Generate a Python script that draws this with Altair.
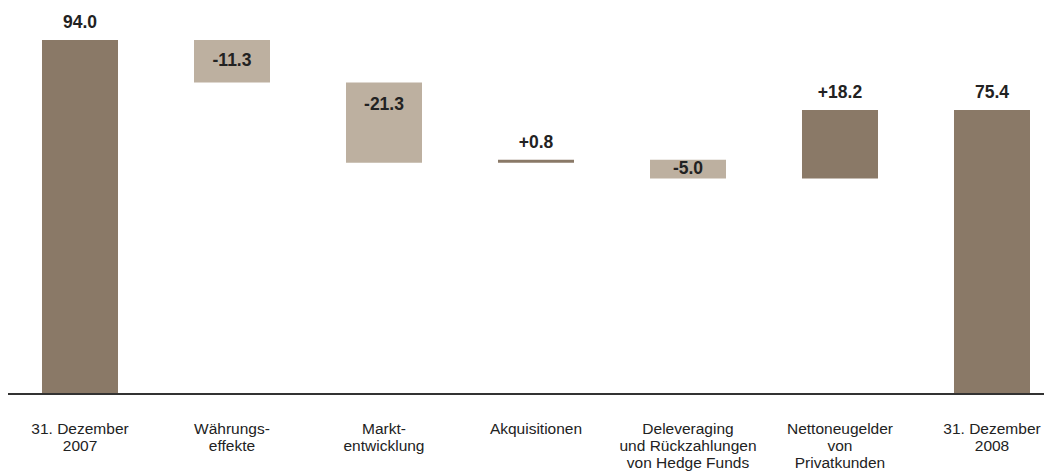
import altair as alt
import pandas as pd

# ---- data ----
categories = [
    "31. Dezember|2007",
    "Währungs-|effekte",
    "Markt-|entwicklung",
    "Akquisitionen",
    "Deleveraging|und Rückzahlungen|von Hedge Funds",
    "Nettoneugelder|von|Privatkunden",
    "31. Dezember|2008",
]
values = [94.0, -11.3, -21.3, 0.8, -5.0, 18.2, 75.4]
is_total = [True, False, False, False, False, False, True]

# ---- waterfall table derived from the arrays ----
rows = []
running = 0.0
for cat, v, t in zip(categories, values, is_total):
    if t:
        start, end = 0.0, v
        running = v
        label = f"{v:.1f}"
    else:
        start, end = running, running + v
        running = end
        label = f"{v:+.1f}"
    rows.append({
        "cat": cat, "start": start, "end": end, "label": label,
        "kind": "dark" if (t or v > 0) else "light",
        "up": 1 if (t or v > 0) else 0,
    })
df = pd.DataFrame(rows)

W, H = 1036, 386
YMAX = 102.5

x = alt.X("cat:N", sort=categories, title=None,
          scale=alt.Scale(paddingInner=0.5, paddingOuter=0.1579, align=0.7083),
          axis=alt.Axis(labelAngle=0, ticks=False, domain=False, labelPadding=27.5,
                        labelFontSize=15.5, labelColor="#222222", labelFont="Liberation Sans",
                        labelLineHeight=17, labelExpr="split(datum.label, '|')"))
yscale = alt.Scale(domain=[0, YMAX], nice=False, zero=True)

base = alt.Chart(df)

bars = base.mark_bar().encode(
    x=x,
    y=alt.Y("start:Q", scale=yscale, axis=None),
    y2="end:Q",
    color=alt.Color("kind:N", scale=alt.Scale(domain=["dark", "light"],
                                              range=["#8a7967", "#bdb0a0"]), legend=None),
)

texts = base.transform_calculate(
    top="max(datum.start, datum.end)",
    mid="(datum.start + datum.end) / 2",
).transform_calculate(
    ly="datum.up == 1 ? datum.top + 4.5 : max(datum.mid, datum.top - 5.85)"
).mark_text(font="Liberation Sans", fontWeight="bold", fontSize=17.5,
            color="#222222", baseline="middle", align="center").encode(
    x=x,
    y=alt.Y("ly:Q", scale=yscale, axis=None),
    text="label:N",
)

baseline = alt.Chart(df).mark_rule(color="#333333", strokeWidth=1.5).encode(
    x=alt.value(0), x2=alt.value(W), y=alt.value(H)
)

chart = alt.layer(bars, texts, baseline).properties(
    width=W, height=H,
    autosize=alt.AutoSizeParams(type="none"),
    padding={"left": 0, "top": 0, "right": 0, "bottom": 77},
).configure_view(stroke=None)

chart.save("out.html", embed_options={"renderer": "svg", "actions": False})
